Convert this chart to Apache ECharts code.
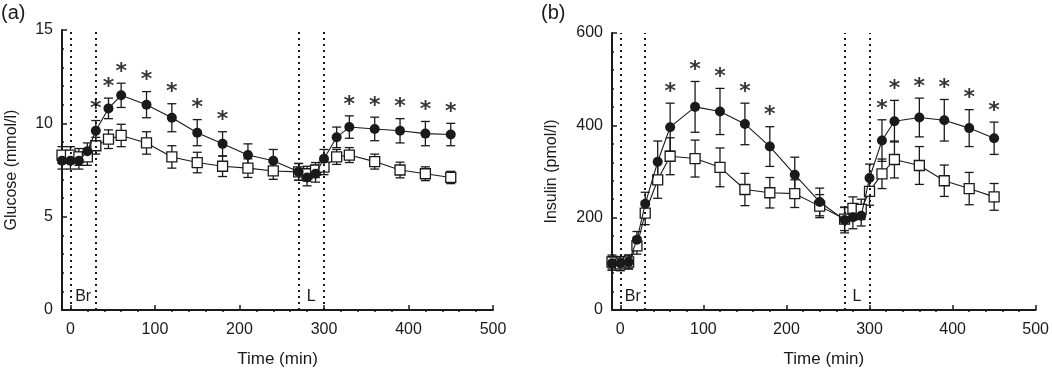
<!DOCTYPE html>
<html>
<head>
<meta charset="utf-8">
<script src="https://cdn.jsdelivr.net/npm/echarts@6/dist/echarts.min.js"></script>
<style>
  html, body { margin: 0; padding: 0; background: #fff; }
  #chart { width: 1052px; height: 373px; }
</style>
</head>
<body>
<div id="chart"></div>
<script>
// sampling times (min)
const times = [-10, 0, 10, 20, 30, 45, 60, 90, 120, 150, 180, 210, 240, 270, 280, 290, 300, 315, 330, 360, 390, 420, 450];

// (a) glucose, mmol/l
const gluCircle = [8.0, 8.0, 8.0, 8.5, 9.6, 10.8, 11.5, 11.0, 10.3, 9.5, 8.9, 8.3, 8.0, 7.4, 7.1, 7.3, 8.1, 9.25, 9.8, 9.7, 9.6, 9.45, 9.4];
const gluCircleErr = [0.45, 0.45, 0.45, 0.45, 0.55, 0.55, 0.65, 0.7, 0.75, 0.7, 0.65, 0.6, 0.6, 0.45, 0.45, 0.45, 0.5, 0.55, 0.6, 0.63, 0.65, 0.65, 0.6];
const gluSquare = [8.3, 8.3, 8.2, 8.2, 8.8, 9.15, 9.35, 8.95, 8.2, 7.9, 7.7, 7.6, 7.45, 7.4, 7.3, 7.5, 7.65, 8.2, 8.3, 7.95, 7.5, 7.3, 7.1];
const gluSquareErr = [0.45, 0.45, 0.45, 0.45, 0.45, 0.5, 0.6, 0.6, 0.6, 0.55, 0.55, 0.5, 0.45, 0.45, 0.4, 0.4, 0.4, 0.4, 0.4, 0.4, 0.42, 0.37, 0.33];
const gluStars = [30, 45, 60, 90, 120, 150, 180, 330, 360, 390, 420, 450];

// (b) insulin, pmol/l
const insCircle = [101, 101, 104, 152, 230, 321, 396, 440, 430, 403, 354, 293, 234, 195, 201, 204, 286, 367, 409, 417, 411, 394, 372];
const insCircleErr = [15, 15, 15, 18, 25, 45, 52, 55, 50, 45, 43, 38, 30, 28, 25, 22, 30, 45, 45, 42, 45, 40, 35];
const insSquare = [104, 100, 104, 139, 210, 282, 333, 328, 309, 261, 254, 252, 225, 197, 220, 218, 257, 295, 326, 313, 280, 263, 245];
const insSquareErr = [15, 15, 15, 18, 25, 40, 40, 40, 42, 35, 33, 30, 25, 25, 25, 22, 30, 32, 40, 41, 34, 35, 29];
const insStars = [60, 90, 120, 150, 180, 315, 330, 360, 390, 420, 450];

// x tick labels and meal periods
const xMajor = [0, 100, 200, 300, 400, 500];
const xMinor = [20, 40, 60, 80, 120, 140, 160, 180, 220, 240, 260, 280, 320, 340, 360, 380, 420, 440, 460, 480];
const mealLines = [0, 30, 270, 300];
const meals = [['Br', 0, 30], ['L', 270, 300]];

const ink = '#1a1a1a';
const font = 'Liberation Sans, Arial, sans-serif';

function errBar(params, api) {
  let x = api.value(0);
  let lo = api.coord([x, api.value(1)]);
  let hi = api.coord([x, api.value(2)]);
  let w = 4.5;
  let st = { stroke: ink, lineWidth: 1.3 };
  return {
    type: 'group',
    children: [
      { type: 'line', shape: { x1: lo[0], y1: lo[1], x2: hi[0], y2: hi[1] }, style: st },
      { type: 'line', shape: { x1: lo[0] - w, y1: lo[1], x2: lo[0] + w, y2: lo[1] }, style: st },
      { type: 'line', shape: { x1: hi[0] - w, y1: hi[1], x2: hi[0] + w, y2: hi[1] }, style: st }
    ]
  };
}

function panelSeries(idx, circle, circleErr, square, squareErr, stars) {
  let xi = idx * 2, yi = idx;
  let pts = arr => times.map((t, i) => [t, arr[i]]);
  let bars = (arr, err) => times.map((t, i) => [t, arr[i] - err[i], arr[i] + err[i]]);
  return [
    {
      type: 'custom', xAxisIndex: xi, yAxisIndex: yi, renderItem: errBar,
      encode: { x: 0, y: [1, 2] }, data: bars(square, squareErr), z: 2, silent: true
    },
    {
      type: 'custom', xAxisIndex: xi, yAxisIndex: yi, renderItem: errBar,
      encode: { x: 0, y: [1, 2] }, data: bars(circle, circleErr), z: 2, silent: true
    },
    {
      type: 'line', xAxisIndex: xi, yAxisIndex: yi, data: pts(square),
      symbol: 'rect', symbolSize: 10, z: 3,
      lineStyle: { color: ink, width: 1.1 },
      itemStyle: { color: '#fff', borderColor: ink, borderWidth: 1.3 }
    },
    {
      type: 'line', xAxisIndex: xi, yAxisIndex: yi, data: pts(circle),
      symbol: 'circle', symbolSize: 10, z: 4,
      lineStyle: { color: ink, width: 1.1 },
      itemStyle: { color: ink, borderColor: ink, borderWidth: 0 },
      markLine: {
        silent: true, symbol: 'none', label: { show: false },
        lineStyle: { color: ink, type: [2, 4], width: 2 },
        data: mealLines.map(v => ({ xAxis: v }))
      },
      markArea: {
        silent: true,
        itemStyle: { color: 'rgba(0,0,0,0)' },
        label: { position: 'insideBottom', distance: 5, color: ink, fontSize: 16, fontFamily: font },
        data: meals.map(m => [{ name: m[0], xAxis: m[1] }, { xAxis: m[2] }])
      }
    },
    {
      type: 'scatter', xAxisIndex: xi, yAxisIndex: yi, symbolSize: 0, z: 5,
      data: stars.map(t => { let i = times.indexOf(t); return [t, circle[i] + circleErr[i]]; }),
      label: {
        show: true, formatter: '*', position: 'top', distance: 0, color: '#000',
        fontSize: 22, fontWeight: 'bold', fontFamily: 'DejaVu Sans, sans-serif'
      }
    }
  ];
}

function xAxes(gi) {
  return [
    {
      type: 'value', gridIndex: gi, min: -10, max: 500,
      name: 'Time (min)', nameLocation: 'middle', nameGap: 41,
      nameTextStyle: { color: ink, fontSize: 17, fontFamily: font },
      axisLine: { onZero: false, lineStyle: { color: ink, width: 2 } },
      axisTick: { inside: true, length: 5, customValues: xMajor, lineStyle: { color: ink, width: 1.5 } },
      axisLabel: { customValues: xMajor, margin: 12, color: ink, fontSize: 16, fontFamily: font },
      splitLine: { show: false }
    },
    {
      type: 'value', gridIndex: gi, min: -10, max: 500,
      axisLine: { show: false },
      axisTick: { inside: true, length: 2, customValues: xMinor, lineStyle: { color: ink, width: 1.5 } },
      axisLabel: { show: false },
      splitLine: { show: false }
    }
  ];
}

function yAxis(gi, name, max, interval, gap) {
  return {
    type: 'value', gridIndex: gi, min: 0, max: max, interval: interval,
    name: name, nameLocation: 'middle', nameGap: gap,
    nameTextStyle: { color: ink, fontSize: 16, fontFamily: font },
    axisLine: { show: true, onZero: false, lineStyle: { color: ink, width: 2 } },
    axisTick: { show: true, inside: true, length: 5, lineStyle: { color: ink, width: 1.5 } },
    minorTick: { show: true, splitNumber: 5, length: 2, lineStyle: { color: ink, width: 1.5 } },
    axisLabel: { margin: 9, color: ink, fontSize: 16, fontFamily: font },
    splitLine: { show: false }
  };
}

let myChart = echarts.init(document.getElementById('chart'), null, { renderer: 'canvas' });
let option = {
  animation: false,
  backgroundColor: '#fff',
  title: [
    { text: '(a)', left: -4, top: -2, textStyle: { color: ink, fontSize: 20, fontWeight: 'normal', fontFamily: font } },
    { text: '(b)', left: 536, top: -2, textStyle: { color: ink, fontSize: 20, fontWeight: 'normal', fontFamily: font } }
  ],
  grid: [
    { left: 62, top: 30, width: 431, bottom: 57 },
    { left: 612, top: 33, width: 426, bottom: 57 }
  ],
  xAxis: [...xAxes(0), ...xAxes(1)],
  yAxis: [
    yAxis(0, 'Glucose (mmol/l)', 15, 5, 42),
    yAxis(1, 'Insulin (pmol/l)', 600, 200, 52)
  ],
  series: [
    ...panelSeries(0, gluCircle, gluCircleErr, gluSquare, gluSquareErr, gluStars),
    ...panelSeries(1, insCircle, insCircleErr, insSquare, insSquareErr, insStars)
  ]
};
myChart.setOption(option);
</script>
</body>
</html>
